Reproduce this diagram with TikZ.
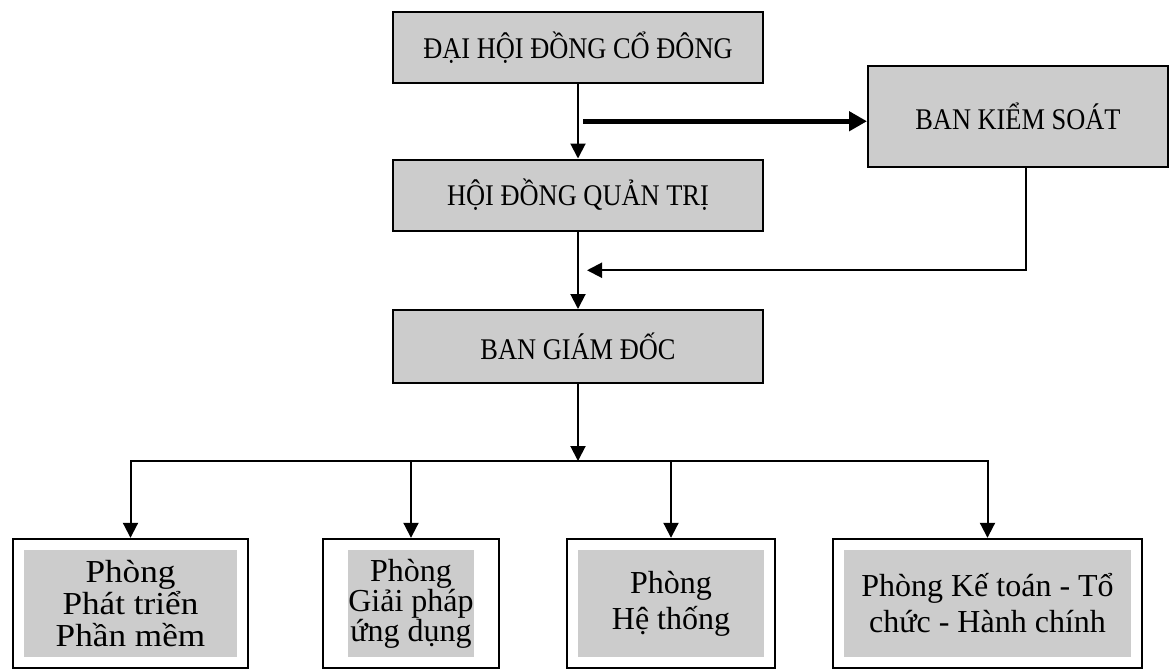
\documentclass[tikz,border=0pt]{standalone}
\usepackage{fontspec}
\setmainfont{Liberation Serif}
\usepackage{tikz}
\usetikzlibrary{arrows.meta,% filled arrow heads
calc,%                    midpoints between boxes
fit}%                     frames round the department boxes
\definecolor{boxgray}{gray}{0.8}
\tikzset{every node/.style={font=\fontsize{30}{34}\selectfont\addfontfeature{FakeStretch=0.88}},
  board/.style={draw,line width=2pt,fill=boxgray,minimum width=370pt,minimum height=71pt,inner sep=0pt},
  deptin/.style={fill=boxgray,align=center,inner sep=0pt,font=\fontsize{32}{30}\selectfont},
  dept/.style={draw,line width=2pt,inner sep=11pt},
  arr/.style={line width=2pt,-{Triangle[length=15pt,width=15pt]}},
  thickarr/.style={line width=4.5pt,-{Triangle[length=18pt,width=19pt]}}}

\begin{document}
\begin{tikzpicture}[x=1pt,y=-1pt]
    \useasboundingbox (0,0) rectangle (1171,670);
    \node[board] (dh) at (578,47.5) {ĐẠI HỘI ĐỒNG CỔ ĐÔNG};
    \node[board] (hd) at (578,195) {HỘI ĐỒNG QUẢN TRỊ};
    \node[board,minimum width=300pt,minimum height=101pt] (bks) at (1018,116.5) {BAN KIỂM SOÁT};
    \node[board,minimum height=73pt] (bgd) at (578,346.5) {BAN GIÁM ĐỐC};
    % departments
    \node[deptin,minimum width=213pt,minimum height=107pt,font=\fontsize{32}{32}\selectfont\addfontfeature{FakeStretch=1.1}] (ptIn) at (130.5,603.5) {Phòng\\Phát triển\\Phần mềm};
    \node[deptin,minimum width=126pt,minimum height=107pt] (gpIn) at (411,603.5) {Phòng\\Giải pháp\\ứng dụng};
    \node[deptin,minimum width=186pt,minimum height=107pt,font=\fontsize{32}{36}\selectfont] (htIn) at (671,603.5) {Phòng\\Hệ thống};
    \node[deptin,minimum width=287pt,minimum height=107pt,font=\fontsize{32}{36}\selectfont] (ktIn) at (987.5,603.5) {Phòng Kế toán - Tổ\\chức - Hành chính};
    \node[dept,fit=(ptIn)] (pt) {};
    \node[dept,fit=(gpIn),inner xsep=25pt] (gp) {};
    \node[dept,fit=(htIn)] (ht) {};
    \node[dept,fit=(ktIn)] (kt) {};
    % connectors
    \coordinate (split) at ($(dh.south)!0.5!(hd.north)$);
    \coordinate (back) at ($(hd.south)!0.5!(bgd.north)$);
    \coordinate (bus) at (578,461);
    \draw[arr] (dh) -- (hd);
    \draw[thickarr] ([xshift=5pt]split) -- (split -| bks.west);
    \draw[arr] (hd) -- (bgd);
    \draw[arr] ([xshift=8pt]bks.south) |- ([xshift=9pt]back);
    \draw[arr] (bgd) -- (bus);
    \foreach \d in {pt,gp,ht,kt} \draw[arr] (bus) -| (\d.north);
\end{tikzpicture}
\end{document}
